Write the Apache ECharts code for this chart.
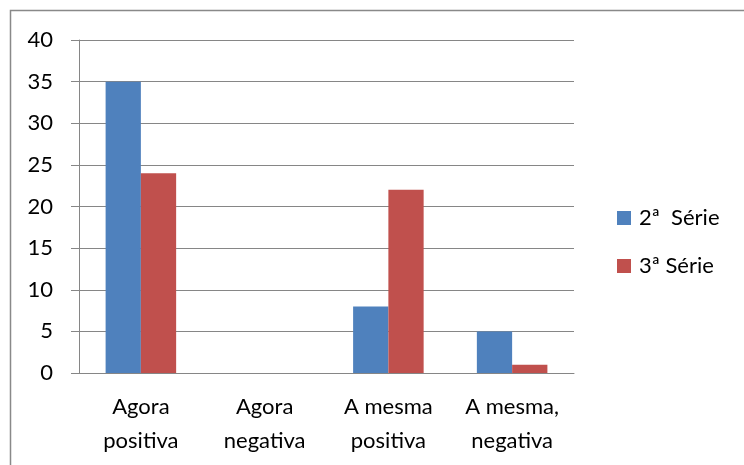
<!DOCTYPE html>
<html><head><meta charset="utf-8">
<script src="https://cdn.jsdelivr.net/npm/echarts@6/dist/echarts.min.js"></script>
<style>html,body{margin:0;padding:0;background:#fff}#c{width:744px;height:465px}</style>
</head><body><div id="c"></div>
<script>
const categories = ['Agora\npositiva', 'Agora\nnegativa', 'A mesma\npositiva', 'A mesma,\nnegativa'];
const seriesNames = ['2ª  Série', '3ª Série'];
const serie2 = [35, 0, 8, 5];
const serie3 = [24, 0, 22, 1];
const yTicks = { min: 0, max: 40, interval: 5 };

const font = 'Lato, "Open Sans", sans-serif';
const chart = echarts.init(document.getElementById('c'), null, { renderer: 'canvas' });
chart.setOption({
  animation: false,
  color: ['#4F81BD', '#C0504D'],
  graphic: [{
    type: 'rect', shape: { x: 10.5, y: 10.5, width: 800, height: 500 },
    style: { fill: 'none', stroke: '#898989', lineWidth: 1.5 }, silent: true, z: -1
  }],
  grid: { left: 79, right: 170, top: 40, bottom: 92 },
  legend: {
    orient: 'vertical', left: 617, top: 207, padding: 0,
    itemWidth: 14, itemHeight: 14, itemGap: 26,
    icon: 'rect',
    textStyle: { fontFamily: font, fontSize: 22, color: '#000', lineHeight: 22, padding: [0, 0, 0, 3] },
    data: seriesNames
  },
  xAxis: {
    type: 'category', data: categories,
    axisLine: { lineStyle: { color: '#868686', width: 1 } },
    axisTick: { length: 8, lineStyle: { color: '#868686' } },
    axisLabel: { fontFamily: font, fontSize: 22, color: '#000', lineHeight: 34, margin: 17, interval: 0 }
  },
  yAxis: {
    type: 'value', min: yTicks.min, max: yTicks.max, interval: yTicks.interval,
    axisLine: { show: true, lineStyle: { color: '#868686', width: 1 } },
    axisTick: { show: true, length: 8, lineStyle: { color: '#868686' } },
    splitLine: { lineStyle: { color: '#868686', width: 1 } },
    axisLabel: { fontFamily: font, fontSize: 22, color: '#000', margin: 26 }
  },
  series: [
    { name: seriesNames[0], type: 'bar', data: serie2, barGap: '0%', barCategoryGap: '43%' },
    { name: seriesNames[1], type: 'bar', data: serie3, barGap: '0%', barCategoryGap: '43%' }
  ]
});
</script></body></html>
